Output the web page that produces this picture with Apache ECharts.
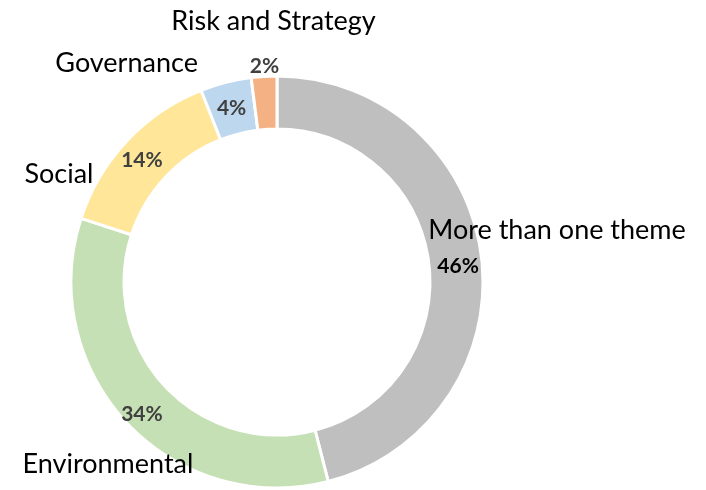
<!DOCTYPE html>
<html><head><meta charset="utf-8">
<script src="https://cdn.jsdelivr.net/npm/echarts@6/dist/echarts.min.js"></script>
<style>html,body{margin:0;padding:0;background:#fff}#c{width:706px;height:490px}</style>
</head><body><div id="c"></div>
<script>
var categories = ['More than one theme', 'Environmental', 'Social', 'Governance', 'Risk and Strategy'];
var values = [46, 34, 14, 4, 2];
var percentLabels = ['46%', '34%', '14%', '4%', '2%'];

var colors = ['#BFBFBF', '#C5E0B4', '#FFE699', '#BDD7EE', '#F4B183'];
var pctColors = ['#000000', '#404040', '#404040', '#404040', '#404040'];
var pctShift = [[0, 7], [-2, 7], [-2, 3], [0, 3], [-1, -34]];
var nameShift = [[99, -29], [-36, 57], [-85, 17], [-105, -42], [8, -79]];
var FONT = 'Lato';

var chart = echarts.init(document.getElementById('c'), null, { renderer: 'canvas' });
chart.setOption({
  animation: false,
  series: [
    {
      type: 'pie', center: [277, 282], radius: [153, 206], startAngle: 90, clockwise: true,
      itemStyle: { borderColor: '#fff', borderWidth: 3 },
      label: { show: true, position: 'inside', fontFamily: FONT, fontWeight: 'bold', fontSize: 21,
        formatter: function (p) { return percentLabels[p.dataIndex]; } },
      labelLine: { show: false },
      emphasis: { disabled: true },
      data: categories.map(function (c, i) {
        return { name: c, value: values[i], itemStyle: { color: colors[i] }, label: { color: pctColors[i] } };
      }),
      labelLayout: function (p) { return { dx: pctShift[p.dataIndex][0], dy: pctShift[p.dataIndex][1] }; }
    },
    {
      type: 'pie', center: [277, 282], radius: [153, 206], startAngle: 90, clockwise: true, silent: true,
      z: 3,
      itemStyle: { color: 'rgba(0,0,0,0)', borderWidth: 0 },
      label: { show: true, position: 'inside', fontFamily: FONT, fontSize: 27, color: '#000',
        formatter: function (p) { return p.name; } },
      labelLine: { show: false },
      emphasis: { disabled: true },
      data: categories.map(function (c, i) { return { name: c, value: values[i] }; }),
      labelLayout: function (p) { return { dx: nameShift[p.dataIndex][0], dy: nameShift[p.dataIndex][1] }; }
    }
  ]
});
</script></body></html>
